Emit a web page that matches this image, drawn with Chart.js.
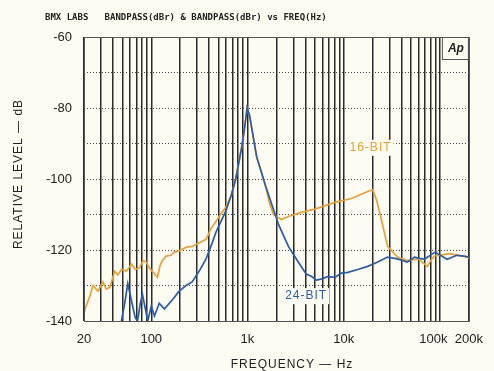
<!DOCTYPE html>
<html>
<head>
<meta charset="utf-8">
<script src="https://cdn.jsdelivr.net/npm/chart.js@4.4.1/dist/chart.umd.min.js"></script>
<style>
  html, body { margin: 0; padding: 0; background: #fcfcf3; }
  canvas { display: block; }
</style>
</head>
<body>
<canvas id="chart" width="494" height="371"></canvas>
<script>
// 16-bit and 24-bit bandpass noise (Hz, dB)
const freq16 = [20, 20.5, 23, 24.8, 27.9, 31.4, 34, 37.1, 41.7, 45, 49.3, 55, 62.5, 68, 75.6, 82, 89, 95,
  103, 116, 123, 130, 143, 160, 173, 195, 231, 266, 314, 371, 417, 470, 542, 596, 680, 755, 871, 940,
  990, 1050, 1244, 1542, 1700, 1862, 2254, 2700, 3622, 5000, 8110, 12000, 17760, 20000, 22000, 24160,
  28580, 36220, 45920, 60000, 73800, 80000, 87100, 127300, 190600, 200000];
const level16 = [-138, -136.6, -133, -130, -131.6, -129, -131, -130.5, -126, -127, -125.4, -126, -124, -125.5,
  -125, -123, -123.4, -125, -126, -127.7, -124.5, -123, -121.7, -121.5, -120.6, -120.3, -119.2, -119, -118,
  -117, -114, -112, -109.4, -108, -104.5, -100, -91, -85, -80, -82, -93.7, -102, -107, -110, -111.4, -110.5,
  -109.4, -108.5, -106.6, -105.5, -103.5, -103, -106, -110.5, -119, -122, -123, -122.5, -124.6, -123,
  -121.7, -121, -122, -122.3];

const freq24 = [49, 53, 57, 62, 68, 72, 77, 81, 86, 92, 100, 108, 121, 137, 166, 195, 230, 266, 314, 371,
  430, 470, 540, 596, 680, 755, 871, 940, 990, 1050, 1244, 1542, 2100, 2661, 3372, 4075, 4592, 5200, 5820,
  6800, 8110, 9500, 11040, 14000, 17760, 22000, 28580, 36000, 45920, 54200, 68700, 89100, 118600, 150000,
  177500, 200000];
const level24 = [-140, -135, -129.5, -134, -139, -140, -135, -132.5, -136, -140, -135.8, -138.6, -135, -136.6,
  -134, -131.6, -130, -129, -126, -122.5, -118, -115, -111.5, -109, -104.5, -100, -91, -85, -80, -82, -93.7,
  -102, -112.8, -119, -123.4, -126.8, -127.4, -128.5, -128.2, -127.5, -127.7, -126.5, -126.3, -125.5,
  -124.6, -123.5, -122, -122.5, -123.4, -122, -122.6, -120.6, -122.6, -121.5, -121.7, -122];

const xTickValues = [20, 30, 40, 50, 60, 70, 80, 90, 100, 200, 300, 400, 500, 600, 700, 800, 900,
  1000, 2000, 3000, 4000, 5000, 6000, 7000, 8000, 9000, 10000, 20000, 30000, 40000, 50000, 60000,
  70000, 80000, 90000, 100000, 200000];
const xTickLabels = { 20: '20', 100: '100', 1000: '1k', 10000: '10k', 100000: '100k\u2002\u2002', 200000: '200k' };
const yTickLabels = [-60, -80, -100, -120, -140];

const orange = '#e8a13a';
const blue = '#2d5ca6';
const paper = '#fcfcf3';

const toPoints = (fs, ls) => fs.map((f, i) => ({ x: f, y: ls[i] }));

const extras = {
  id: 'extras',
  beforeDraw(chart) {
    const { ctx } = chart;
    ctx.save();
    ctx.fillStyle = paper;
    ctx.fillRect(0, 0, chart.width, chart.height);
    ctx.restore();
  },
  beforeDatasetsDraw(chart) {
    const { ctx, scales: { x, y } } = chart;
    ctx.save();
    ctx.font = '12px "Liberation Sans", Arial, sans-serif';
    ctx.letterSpacing = '1px';
    ctx.textBaseline = 'middle';
    ctx.textAlign = 'center';
    // curve labels sit on a patch of paper, hiding the grid
    const tags = [
      { text: '16-BIT', f: 19000, db: -91.2, color: orange },
      { text: '24-BIT', f: 4075, db: -133, color: blue }
    ];
    tags.forEach(t => {
      const px = x.getPixelForValue(t.f);
      const py = y.getPixelForValue(t.db);
      const w = ctx.measureText(t.text).width + 4;
      ctx.fillStyle = paper;
      ctx.fillRect(px - w / 2, py - 8, w, 16);
      ctx.fillStyle = t.color;
      ctx.fillText(t.text, px, py);
    });
    ctx.restore();
  },
  afterDraw(chart) {
    const { ctx, chartArea: a } = chart;
    ctx.save();
    // plot frame
    ctx.strokeStyle = '#555';
    ctx.lineWidth = 1;
    ctx.strokeRect(a.left + 0.5, a.top + 0.5, a.right - a.left, a.bottom - a.top);

    // Ap logo box
    ctx.fillStyle = paper;
    ctx.fillRect(a.right - 26, a.top + 1, 25, 21);
    ctx.strokeRect(a.right - 26.5, a.top + 0.5, 26, 22);
    ctx.fillStyle = '#222';
    ctx.font = 'italic bold 12px "Liberation Sans", Arial, sans-serif';
    ctx.textAlign = 'center';
    ctx.textBaseline = 'middle';
    ctx.fillText('Ap', a.right - 13, a.top + 12);

    // header line
    ctx.font = 'bold 9px "DejaVu Sans Mono", monospace';
    ctx.textAlign = 'left';
    ctx.textBaseline = 'alphabetic';
    ctx.fillStyle = '#222';
    ctx.fillText('BMX LABS   BANDPASS(dBr) & BANDPASS(dBr) vs FREQ(Hz)', 45, 20);

    // axis titles
    ctx.font = '12px "Liberation Sans", Arial, sans-serif';
    ctx.letterSpacing = '1px';
    ctx.textBaseline = 'middle';
    ctx.textAlign = 'center';
    ctx.fillText('FREQUENCY \u2014 Hz', 292, 365);
    ctx.translate(19, 174);
    ctx.rotate(-Math.PI / 2);
    ctx.fillText('RELATIVE LEVEL \u2014 dB', 0, 0);
    ctx.restore();
  }
};

new Chart(document.getElementById('chart'), {
  type: 'line',
  data: {
    datasets: [
      {
        label: '16-BIT',
        data: toPoints(freq16, level16),
        borderColor: orange,
        borderWidth: 1.7,
        pointRadius: 0,
        tension: 0,
        order: 1
      },
      {
        label: '24-BIT',
        data: toPoints(freq24, level24),
        borderColor: blue,
        borderWidth: 1.7,
        pointRadius: 0,
        tension: 0,
        order: 0
      }
    ]
  },
  options: {
    responsive: false,
    animation: false,
    events: [],
    layout: { padding: { top: 37, right: 22, bottom: 0, left: 0 } },
    plugins: {
      legend: { display: false },
      tooltip: { enabled: false }
    },
    scales: {
      x: {
        type: 'logarithmic',
        min: 20,
        max: 200000,
        afterBuildTicks: s => { s.ticks = xTickValues.map(v => ({ value: v })); },
        afterFit: s => { s.height = 50; },
        border: { display: false },
        grid: { color: '#2b2b2b', lineWidth: 1.5, drawTicks: false },
        ticks: {
          autoSkip: false,
          maxRotation: 0,
          padding: 11,
          color: '#222',
          font: { family: '"Liberation Sans", Arial, sans-serif', size: 13 },
          callback: v => xTickLabels[v] || ''
        }
      },
      y: {
        min: -140,
        max: -60,
        afterFit: s => { s.width = 84; },
        border: { display: false, dash: [1, 2] },
        grid: { color: '#444', lineWidth: 1, drawTicks: false },
        ticks: {
          stepSize: 10,
          padding: 12,
          color: '#222',
          font: { family: '"Liberation Sans", Arial, sans-serif', size: 13 },
          callback: v => yTickLabels.includes(v) ? String(v) : ''
        }
      }
    }
  },
  plugins: [extras]
});
</script>
</body>
</html>
